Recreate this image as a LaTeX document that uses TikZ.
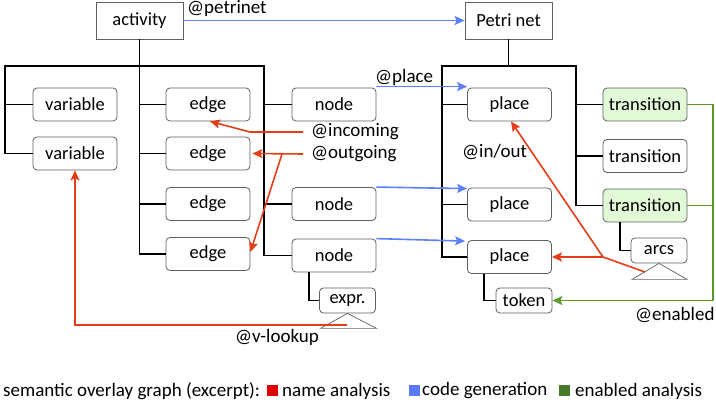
\documentclass[tikz,border=0pt]{standalone}
\usepackage{fontspec}
\setmainfont{Carlito}
\usetikzlibrary{arrows.meta}
\definecolor{bgray}{RGB}{95,95,95}
\definecolor{gfill}{RGB}{226,249,215}
\definecolor{cred}{RGB}{226,62,24}
\definecolor{cblue}{RGB}{92,128,248}
\definecolor{cgreen}{RGB}{92,152,44}
\definecolor{lred}{RGB}{222,0,0}
\definecolor{lblue}{RGB}{90,120,250}
\definecolor{lgreen}{RGB}{70,122,38}
\begin{document}
\begin{tikzpicture}[x=1pt,y=-1pt,
  every node/.style={font=\fontsize{18.5}{21}\selectfont},
  box/.style={draw=bgray, line width=0.8pt, rounded corners=4pt, fill=white, minimum width=84pt, minimum height=33pt, inner sep=0pt},
  greenbox/.style={box, fill=gfill},
  smallbox/.style={box, minimum width=56pt, minimum height=25pt},
  topbox/.style={draw=bgray, line width=0.8pt, fill=white, minimum width=87pt, minimum height=37pt, inner sep=0pt},
  tree/.style={line width=1.7pt, black},
  tri/.style={draw=bgray, line width=0.7pt, fill=white},
  lbl/.style={inner sep=2pt, font=\fontsize{19}{22}\selectfont},
  tip/.style={-{Stealth[length=10pt,width=9pt,inset=2pt]}},
  redarr/.style={draw=cred, line width=1.6pt},
  bluearr/.style={draw=cblue, line width=1.6pt},
  greenarr/.style={draw=cgreen, line width=1.6pt},
  sq/.style={minimum width=11pt, minimum height=11pt, inner sep=0pt}
]
\useasboundingbox (0,0) rectangle (716,403);

% top nodes
\node[topbox] (act) at (139.5,20.5) {activity};
\node[topbox] (pn) at (508.5,20.5) {Petri net};

% activity children
\node[box] (var1) at (75,104.5) {variable};
\node[box] (var2) at (75,153.5) {variable};
\node[box] (edge1) at (208,104.5) {edge};
\node[box] (edge2) at (208,153.5) {edge};
\node[box] (edge3) at (208,204) {edge};
\node[box] (edge4) at (208,254) {edge};
\node[box] (node1) at (334,104.5) {node};
\node[box] (node2) at (334,204) {node};
\node[box] (node3) at (334,255.5) {node};
\node[smallbox] (expr) at (347.5,300.5) {expr.};

% petri net children
\node[box] (place1) at (509.5,104.5) {place};
\node[box] (place2) at (509.5,204.5) {place};
\node[box] (place3) at (509.5,257) {place};
\node[smallbox] (token) at (524,300.5) {token};
\node[greenbox] (trans1) at (645,104.5) {transition};
\node[box] (trans2) at (645,156) {transition};
\node[greenbox] (trans3) at (645,205.5) {transition};
\node[smallbox] (arcs) at (659,250.5) {arcs};

% triangles
\draw[tri] (expr.south) -- ++(-27,15) -- ++(56,0) -- cycle;
\draw[tri] (arcs.south) -- ++(-27,16) -- ++(55,0) -- cycle;
\coordinate (vT) at (347,325);
\coordinate (aT) at (645,272);

% activity tree
\coordinate (ab) at (139.5,66);
\coordinate (busL) at (5,66);
\coordinate (busR) at (264,66);
\draw[tree] (act.south) -- (ab);
\draw[tree] (var2.west) -| (busL) -- (busR) |- (node3.west);
\draw[tree] (var1.west) -- (var1.west -| busL);
\draw[tree] (ab) |- (edge4.west);
\draw[tree] (edge1.west) -- (edge1.west -| ab);
\draw[tree] (edge2.west) -- (edge2.west -| ab);
\draw[tree] (edge3.west) -- (edge3.west -| ab);
\draw[tree] (node1.west) -- (node1.west -| busR);
\draw[tree] (node2.west) -- (node2.west -| busR);
\draw[tree] ([xshift=-25pt]node3.south) |- (expr.west);

% petri tree
\coordinate (pb) at (508.5,66);
\coordinate (pbL) at (442,66);
\coordinate (pbR) at (576,66);
\draw[tree] (pn.south) -- (pb);
\draw[tree] (place3.west) -| (pbL) -- (pbR) |- (trans3.west);
\draw[tree] (place1.west) -- (place1.west -| pbL);
\draw[tree] (place2.west) -- (place2.west -| pbL);
\draw[tree] (trans1.west) -- (trans1.west -| pbR);
\draw[tree] (trans2.west) -- (trans2.west -| pbR);
\draw[tree] ([xshift=-25.5pt]place3.south) |- (token.west);
\draw[tree] ([xshift=-25pt]trans3.south) |- (arcs.west);

% labels
\node[lbl, anchor=west] (lpn) at (185,8) {@petrinet};
\node[lbl, anchor=west] (lpl) at (373,77) {@place};
\node[lbl, anchor=west] (inc) at (309,132) {@incoming};
\node[lbl, anchor=west] (outg) at (309,154) {@outgoing};
\node[lbl, anchor=west] (lio) at (460,152) {@in/out};
\node[lbl, anchor=west] (lvl) at (233,337) {@v-lookup};
\node[lbl, anchor=west] (len) at (633,315) {@enabled};

% blue arrows
\draw[bluearr, tip] (act.east) -- (pn.west);
\draw[bluearr, tip] ([yshift=1pt]node1.north east) -- ([yshift=1pt]place1.north west);
\draw[bluearr, tip] (node2.north east) -- ([yshift=-1pt]place2.north west);
\draw[bluearr, tip] (node3.north east) -- ([xshift=-2pt,yshift=-1pt]place3.north west);

% red arrows
\coordinate (incK) at (250,132);
\coordinate (outJ) at (282,154);
\coordinate (ioJ) at (603,257);
\draw[redarr, tip] ([xshift=-6pt]inc.west) -- (incK) -- ([xshift=2pt]edge1.south);
\draw[redarr, tip] ([xshift=-6pt]outg.west) -- ([xshift=2pt]edge2.east);
\draw[redarr, tip] (outJ) -- ([yshift=2pt]edge4.east);
\draw[redarr] (aT) -- (ioJ);
\draw[redarr, tip] (ioJ) -- ([xshift=1.5pt]place1.south);
\draw[redarr, tip] (ioJ) -- (place3.east);
\draw[redarr, tip] (vT) -| (var2.south);

% green arrows
\coordinate (gT) at (713,104.5);
\coordinate (gB) at (713,300.5);
\draw[greenarr, tip] (trans1.east) -- (gT) -- (gB) -- (token.east);
\draw[greenarr] (trans3.east) -- (trans3.east -| gT);

% legend
\node[lbl, anchor=west, inner sep=0pt] (leg) at (3,391) {semantic overlay graph (excerpt):};
\node[sq, fill=lred] (sq1) at (272,391) {};
\node[lbl, anchor=west, inner sep=0pt] (l1) at (282,391) {name analysis};
\node[sq, fill=lblue] (sq2) at (414,391) {};
\node[lbl, anchor=west, inner sep=0pt] (l2) at (422,391) {code generation};
\node[sq, fill=lgreen] (sq3) at (564.5,391) {};
\node[lbl, anchor=west, inner sep=0pt] (l3) at (575,391) {enabled analysis};
\end{tikzpicture}
\end{document}
